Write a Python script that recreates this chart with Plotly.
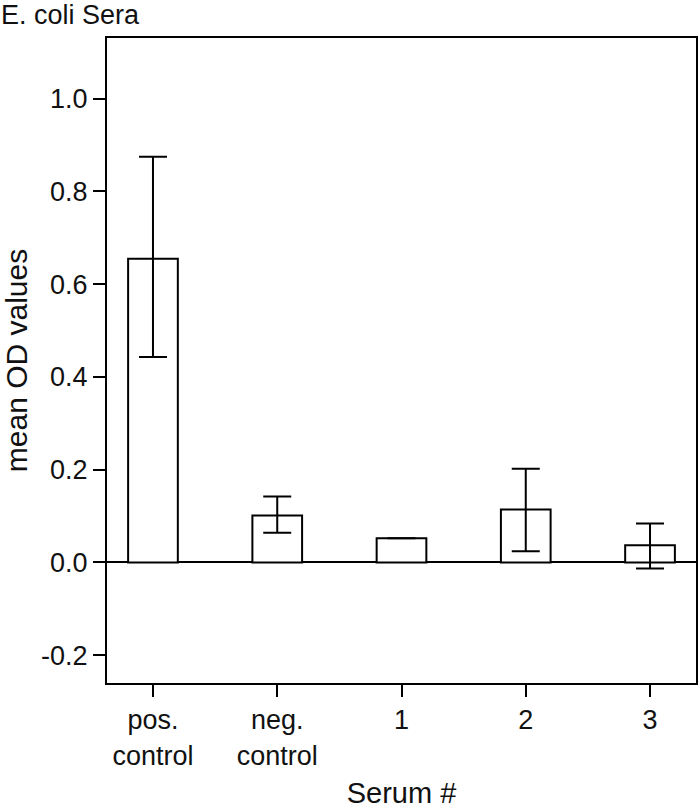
import plotly.graph_objects as go

# data
categories = ["pos.<br>control", "neg.<br>control", "1", "2", "3"]
means = [0.655, 0.101, 0.052, 0.114, 0.037]
err_up = [0.220, 0.041, 0.0, 0.088, 0.047]
err_down = [0.212, 0.037, 0.0, 0.090, 0.050]
y_ticks = [-0.2, 0.0, 0.2, 0.4, 0.6, 0.8, 1.0]

FONT = "Liberation Sans, Arial, sans-serif"

fig = go.Figure(go.Bar(
    x=categories, y=means, width=0.4,
    marker=dict(color="white", line=dict(color="black", width=2)),
    error_y=dict(type="data", symmetric=False, array=err_up, arrayminus=err_down,
                 color="black", thickness=2, width=14),
))

fig.update_layout(
    width=700, height=809,
    margin=dict(l=107, r=2, t=38, b=124),
    paper_bgcolor="white", plot_bgcolor="white",
    font=dict(family=FONT, size=27, color="#111111"),
    showlegend=False,
)
# plot title, top-left corner of the page
fig.add_annotation(
    text="E. coli Sera", xref="paper", yref="paper", x=-107 / 591, y=1 + 23 / 647,
    xanchor="left", yanchor="middle", showarrow=False, borderpad=0,
    font=dict(size=27, color="#111111"),
)
fig.update_xaxes(
    range=[-0.37, 4.37], showgrid=False, zeroline=False,
    showline=True, linecolor="black", linewidth=2, mirror=True,
    ticks="outside", ticklen=12, tickwidth=2, tickcolor="black",
    tickfont=dict(size=27),
    title=dict(text="Serum #", font=dict(size=29), standoff=16),
)
fig.update_yaxes(
    range=[-0.26, 1.131], tickvals=y_ticks, ticktext=[f"{v:.1f}" for v in y_ticks],
    showgrid=False, zeroline=True, zerolinecolor="black", zerolinewidth=2,
    showline=True, linecolor="black", linewidth=2, mirror=True,
    ticks="outside", ticklen=12, tickwidth=2, tickcolor="black",
    tickfont=dict(size=27),
    title=dict(text="mean OD values", font=dict(size=30), standoff=10),
)

# drop the page margin so the 700x809 figure fills the window exactly
fig.write_html(
    "out.html",
    config={"responsive": False, "displayModeBar": False},
    post_script="document.body.style.margin='0';document.body.style.overflow='hidden';",
)
